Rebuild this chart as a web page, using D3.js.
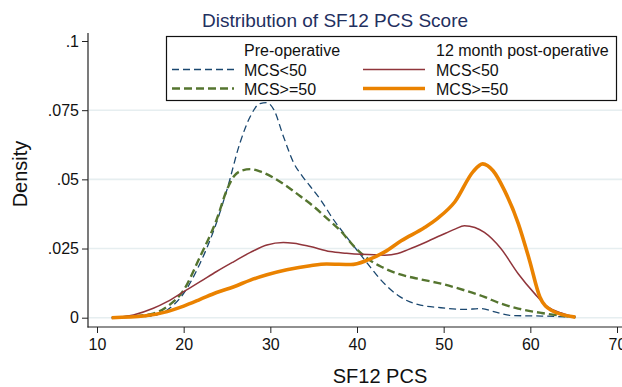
<!DOCTYPE html>
<html>
<head>
<meta charset="utf-8">
<script src="https://cdn.jsdelivr.net/npm/d3@7"></script>
<style>
  body { margin: 0; background: #fff; }
  svg { display: block; font-family: "Liberation Sans", Arial, Helvetica, sans-serif; }
</style>
</head>
<body>
<svg id="chart" width="622" height="387"></svg>
<script>
// kernel density estimates: [SF12 PCS, density]
const preLow = [
  [11.7, 0], [16.2, .0006], [18.1, .0028], [20.0, .0088], [21.9, .0197], [23.5, .0318],
  [25.0, .0463], [26.5, .0632], [27.7, .0728], [28.8, .0774], [29.6, .0777], [30.4, .0752],
  [31.5, .0656], [32.7, .0559], [33.7, .0511], [34.6, .0475], [35.8, .0426], [37.3, .0354],
  [38.6, .0300], [39.7, .0256], [41.2, .0196], [42.8, .0135], [44.7, .0081], [47.0, .0048],
  [49.7, .0036], [52.4, .0030], [54.3, .0033], [55.9, .0021], [57.8, .0008], [61.3, .0006],
  [65.2, .0002]
];
const preHigh = [
  [11.7, 0], [16.2, .0013], [18.1, .0040], [20.0, .0100], [21.9, .0221], [23.8, .0354],
  [25.0, .0463], [25.8, .0511], [26.5, .0529], [27.7, .0537], [28.8, .0529], [30.4, .0505],
  [31.9, .0475], [33.5, .0438], [35.0, .0402], [36.5, .0360], [38.1, .0314], [39.7, .0256],
  [41.2, .0214], [42.8, .0184], [44.7, .0159], [47.0, .0141], [49.7, .0123], [52.4, .0099],
  [54.7, .0075], [56.6, .0051], [58.6, .0033], [61.3, .0017], [65.2, .0002]
];
const postLow = [
  [11.7, 0], [14.2, .0010], [16.5, .0034], [18.1, .0058], [20.0, .0094], [21.9, .0130],
  [23.8, .0167], [25.8, .0203], [27.7, .0236], [29.6, .0263], [31.5, .0272], [32.7, .0269],
  [34.6, .0257], [36.9, .0239], [38.8, .0233], [40.5, .0229], [43.2, .0226], [44.7, .0232],
  [45.9, .0246], [47.8, .0271], [49.7, .0298], [51.3, .0320], [52.4, .0332], [53.6, .0326],
  [54.7, .0308], [56.6, .0250], [58.6, .0159], [60.5, .0087], [62.0, .0039], [63.6, .0017],
  [65.2, .0002]
];
const postHigh = [
  [11.7, 0], [15.4, .0006], [18.1, .0022], [20.0, .0042], [21.9, .0066], [23.8, .0091],
  [25.8, .0112], [27.7, .0136], [29.6, .0155], [31.9, .0173], [34.6, .0188], [36.5, .0194],
  [39.3, .0192], [41.2, .0208], [43.2, .0238], [45.1, .0278], [47.8, .0326], [49.3, .0359],
  [51.3, .0419], [53.4, .0528], [54.5, .0556], [55.7, .0531], [57.0, .0461], [58.6, .0341],
  [59.9, .0208], [61.1, .0075], [62.4, .0027], [65.2, .0002]
];

const xTicks = [10, 20, 30, 40, 50, 60, 70];
const yTicks = [0, .025, .05, .075, .1];
const yTickLabels = ["0", ".025", ".05", ".075", ".1"];

const series = [
  { name: "MCS<50", data: preLow, color: "#1a476f", width: 1.3, dash: "7,4", col: 0, row: 1 },
  { name: "MCS>=50", data: preHigh, color: "#55752f", width: 2.4, dash: "8,4", col: 0, row: 2 },
  { name: "MCS<50", data: postLow, color: "#90353b", width: 1.5, dash: null, col: 1, row: 1 },
  { name: "MCS>=50", data: postHigh, color: "#ea8200", width: 3.6, dash: null, col: 1, row: 2 }
];
const legendHeads = ["Pre-operative", "12 month post-operative"];

const svg = d3.select("#chart");

const x = d3.scaleLinear().domain([10, 70]).range([97, 617]);
const y = d3.scaleLinear().domain([0, .1]).range([317.7, 41]);
const plotLeft = 88, plotBottom = 327, plotRight = 622, plotTop = 33;

// gridlines (none at the top tick)
svg.append("g")
  .selectAll("line")
  .data(yTicks.filter(d => d < .1))
  .join("line")
  .attr("x1", plotLeft + 1).attr("x2", plotRight)
  .attr("y1", d => y(d)).attr("y2", d => y(d))
  .attr("stroke", "#e6eef0")
  .attr("stroke-width", 1.6);

// y axis
const yAxis = svg.append("g").attr("transform", `translate(${plotLeft},0)`)
  .call(d3.axisLeft(y).tickValues(yTicks).tickFormat((d, i) => yTickLabels[i]).tickSize(6).tickPadding(3));
yAxis.select(".domain").remove();
yAxis.append("line").attr("x1", 0).attr("x2", 0).attr("y1", plotTop).attr("y2", plotBottom + 0.5)
  .attr("stroke", "#222").attr("stroke-width", 1.2);

// x axis (the 70 label runs off the right edge, as in the original)
const xAxis = svg.append("g").attr("transform", `translate(0,${plotBottom})`)
  .call(d3.axisBottom(x).tickValues(xTicks).tickFormat(d3.format("d")).tickSize(6).tickPadding(6));
xAxis.select(".domain").remove();
xAxis.append("line").attr("x1", plotLeft - 0.5).attr("x2", plotRight).attr("y1", 0).attr("y2", 0)
  .attr("stroke", "#222").attr("stroke-width", 1.2);

svg.selectAll(".tick line").attr("stroke", "#222").attr("stroke-width", 1);
svg.selectAll(".tick text")
  .attr("fill", "#111")
  .style("font-size", "16px")
  .style("font-family", "'Liberation Sans', Arial, sans-serif");

// density curves
const line = d3.line()
  .x(d => x(d[0]))
  .y(d => y(d[1]))
  .curve(d3.curveMonotoneX);

svg.append("g")
  .selectAll("path")
  .data(series)
  .join("path")
  .attr("d", d => line(d.data))
  .attr("fill", "none")
  .attr("stroke", d => d.color)
  .attr("stroke-width", d => d.width)
  .attr("stroke-dasharray", d => d.dash)
  .attr("stroke-linejoin", "round");

// title and axis titles
svg.append("text")
  .attr("x", 335).attr("y", 27)
  .attr("text-anchor", "middle")
  .attr("fill", "#1f305f")
  .style("font-size", "19px")
  .text("Distribution of SF12 PCS Score");

svg.append("text")
  .attr("x", 380).attr("y", 383)
  .attr("text-anchor", "middle")
  .attr("fill", "#111")
  .style("font-size", "20px")
  .text("SF12 PCS");

svg.append("text")
  .attr("transform", "translate(27,174) rotate(-90)")
  .attr("text-anchor", "middle")
  .attr("fill", "#111")
  .style("font-size", "20px")
  .text("Density");

// legend
const legend = svg.append("g");
legend.append("rect")
  .attr("x", 166.5).attr("y", 36.5).attr("width", 450).attr("height", 64)
  .attr("fill", "#fff").attr("stroke", "#111").attr("stroke-width", 1.2);

const colX = [172, 363];
const textX = [244, 436];
const rowY = [55.5, 75.5, 94.5];

legendHeads.forEach((h, i) => {
  legend.append("text")
    .attr("x", textX[i]).attr("y", rowY[0])
    .attr("fill", "#111").style("font-size", "16px")
    .text(h);
});

series.forEach(s => {
  const ly = rowY[s.row] - 6;
  legend.append("line")
    .attr("x1", colX[s.col]).attr("x2", colX[s.col] + 62)
    .attr("y1", ly).attr("y2", ly)
    .attr("stroke", s.color)
    .attr("stroke-width", s.width)
    .attr("stroke-dasharray", s.dash);
  legend.append("text")
    .attr("x", textX[s.col]).attr("y", rowY[s.row])
    .attr("fill", "#111").style("font-size", "16px")
    .text(s.name);
});
</script>
</body>
</html>
